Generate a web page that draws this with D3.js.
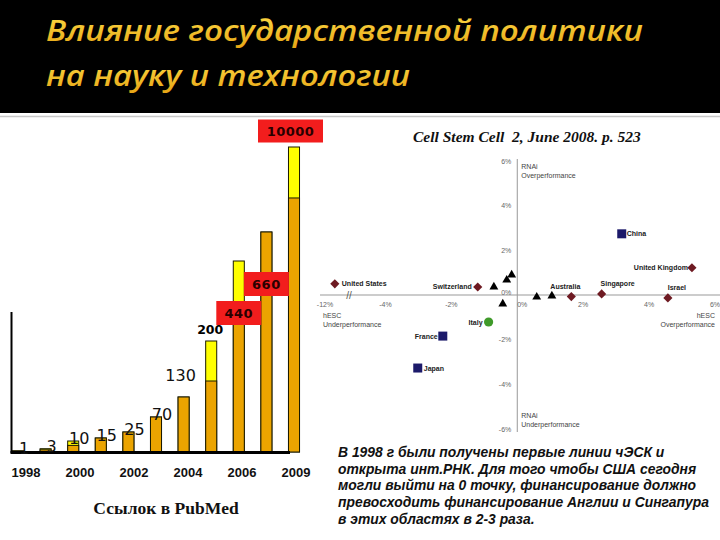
<!DOCTYPE html>
<html><head><meta charset="utf-8">
<script src="https://cdn.jsdelivr.net/npm/d3@7"></script>
<style>body{margin:0;background:#fff}svg{display:block}</style>
</head><body><svg id="c" width="720" height="540"></svg>
<script>
// ---------- data ----------
const titleLines = ["Влияние государственной политики", "на науку и технологии"];
const barCategories = ["1998","1999","2000","2001","2002","2003","2004","2005","2006","2007","2008"];
const barTotals = [1, 3, 10, 15, 25, 70, 130, 200, 440, 660, 10000];
const barBase   = [1, 2, 6, 15, 25, 70, 130, 150, 300, 660, 4400];
const barLabels = ["1","3","10","15","25","70","130","200","440","660","10000"];
const barLabelKinds = ["plain","plain","plain","plain","plain","plain","raised","bold","box","box","boxTop"];
const yearTicks = ["1998","2000","2002","2004","2006","2009"];
const barAxisTitle = "Ссылок в PubMed";
const citation = "Cell Stem Cell  2, June 2008. p. 523";

const scatterXTicks = [-12, -4, -2, 0, 2, 4, 6];
const scatterYTicks = [-6, -4, -2, 0, 2, 4, 6];
const countries    = ["United States","Switzerland","Australia","Singapore","Israel","United Kingdom","China","France","Japan","Italy"];
const countryX     = [-9.5, -1.2, 1.64, 2.56, 4.57, 5.3, 3.17, -2.26, -3.02, -0.87];
const countryY     = [0.5, 0.36, -0.07, 0.05, -0.13, 1.22, 2.74, -1.84, -3.27, -1.21];
const countryGroup = ["diamond","diamond","diamond","diamond","diamond","diamond","square","square","square","circle"];
const otherX = [-0.71, -0.32, -0.17, -0.44, 0.59, 1.05];
const otherY = [0.36, 0.67, 0.9, -0.4, -0.09, -0.04];
const quadrantLabels = [["RNAi","Overperformance"],["hESC","Underperformance"],["hESC","Overperformance"],["RNAi","Underperformance"]];
const noteLines = [
  "В 1998 г были получены первые линии чЭСК и",
  "открыта инт.РНК. Для того чтобы США сегодня",
  "могли выйти на 0 точку, финансирование должно",
  "превосходить финансирование Англии и Сингапура",
  "в этих областях в 2-3 раза."
];

// ---------- drawing ----------
const svg = d3.select("#c");
const defs = svg.append("defs");
const g1 = defs.append("linearGradient").attr("id","gold").attr("x1",0).attr("y1",0).attr("x2",0).attr("y2",1);
g1.append("stop").attr("offset","0%").attr("stop-color","#ffe04a");
g1.append("stop").attr("offset","100%").attr("stop-color","#e6a414");

// header
svg.append("rect").attr("x",0).attr("y",0).attr("width",720).attr("height",113).attr("fill","#000");
svg.append("line").attr("x1",0).attr("x2",720).attr("y1",116.5).attr("y2",116.5).attr("stroke","#c8c8c8").attr("stroke-width",1.5);
const titleW = [597, 364];
titleLines.forEach((t,i)=>{
  svg.append("text").attr("x",46).attr("y",[41,86][i])
    .attr("font-family","Open Sans, sans-serif").attr("font-style","italic").attr("font-weight",600)
    .attr("font-size",29).attr("fill","url(#gold)")
    .attr("textLength",titleW[i]).attr("lengthAdjust","spacingAndGlyphs").text(t);
});

// ---- bar chart ----
const base = 452;
const xb = d3.scaleBand().domain(barCategories).range([4.2, 307.8]).paddingInner(0.6).paddingOuter(0.3);
const yb = d3.scaleLinear().domain([0, 10, 25, 130, 200, 440, 660, 10000])
  .range([base, 441, 432, 397, 341, 261, 232, 147]);
const bars = svg.append("g");
barCategories.forEach((c,i)=>{
  const x = xb(c), w = xb.bandwidth();
  bars.append("rect").attr("x",x).attr("y",yb(barTotals[i])).attr("width",w)
    .attr("height",base - yb(barTotals[i])).attr("fill","#ffff00").attr("stroke","#1a1a00").attr("stroke-width",1);
  bars.append("rect").attr("x",x).attr("y",yb(barBase[i])).attr("width",w)
    .attr("height",base - yb(barBase[i])).attr("fill","#eba400").attr("stroke","#1a1a00").attr("stroke-width",1);
});
svg.append("line").attr("x1",11.5).attr("x2",11.5).attr("y1",312).attr("y2",base+1).attr("stroke","#000").attr("stroke-width",2);
svg.append("line").attr("x1",10.5).attr("x2",290).attr("y1",base+0.5).attr("y2",base+0.5).attr("stroke","#000").attr("stroke-width",3);

// value labels
barCategories.forEach((c,i)=>{
  const cx = xb(c) + xb.bandwidth()/2, top = yb(barTotals[i]);
  const k = barLabelKinds[i];
  if (k === "plain" || k === "raised") {
    svg.append("text").attr("x", k==="raised" ? cx-3 : cx+6).attr("y", k==="raised" ? top-16 : top+3)
      .attr("text-anchor","middle").attr("font-family","DejaVu Sans, sans-serif").attr("font-size",16)
      .attr("fill","#111").text(barLabels[i]);
  } else if (k === "bold") {
    svg.append("text").attr("x",cx-1).attr("y",top-7).attr("text-anchor","middle")
      .attr("font-family","DejaVu Sans, sans-serif").attr("font-weight","bold").attr("font-size",12.5)
      .attr("fill","#000").text(barLabels[i]);
  } else {
    const cy = k==="box" ? top+52 : top-16;
    const bw = k==="box" ? 45 : 65, bh = k==="box" ? 24 : 23;
    const bx = k==="box" ? cx-bw/2 : cx-36;
    svg.append("rect").attr("x",bx).attr("y",cy-bh/2).attr("width",bw).attr("height",bh).attr("fill","#f21d1d");
    svg.append("text").attr("x",bx+bw/2).attr("y",cy+4.5).attr("text-anchor","middle")
      .attr("font-family","DejaVu Sans, sans-serif").attr("font-weight","bold").attr("font-size",13)
      .attr("letter-spacing",0.5).attr("fill","#2a0000").text(barLabels[i]);
  }
});
const xt = d3.scalePoint().domain(yearTicks).range([26, 296]);
yearTicks.forEach(t=>{
  svg.append("text").attr("x",xt(t)).attr("y",477).attr("text-anchor","middle")
    .attr("font-family","Liberation Sans, Arial, sans-serif").attr("font-weight","bold").attr("font-size",13)
    .attr("fill","#111").text(t);
});
svg.append("text").attr("x",166).attr("y",514).attr("text-anchor","middle")
  .attr("font-family","Liberation Serif, serif").attr("font-weight","bold").attr("font-size",17.5)
  .attr("fill","#111").text(barAxisTitle);

// citation
svg.append("text").attr("x",413).attr("y",142).attr("font-family","Liberation Serif, serif")
  .style("white-space","pre")
  .attr("font-weight","bold").attr("font-style","italic").attr("font-size",15.5).attr("fill","#111").text(citation);

// ---- scatter ----
const xs = d3.scaleLinear().domain([-12, -5, 6]).range([325, 352.5, 715]);
const ys = d3.scaleLinear().domain([-6, 6]).range([429, 161]);
const sc = svg.append("g");
sc.append("line").attr("x1",xs(0)).attr("x2",xs(0)).attr("y1",159).attr("y2",432).attr("stroke","#999").attr("stroke-width",1);
sc.append("line").attr("x1",320).attr("x2",720).attr("y1",ys(0)).attr("y2",ys(0)).attr("stroke","#999").attr("stroke-width",1);
sc.append("text").attr("x",349).attr("y",299).attr("text-anchor","middle").attr("font-family","Liberation Sans, sans-serif")
  .attr("font-size",10).attr("fill","#555").text("//");
const tickFont = {ff:"Liberation Sans, Arial, sans-serif", fs:7, fill:"#666"};
scatterYTicks.forEach(t=>{
  sc.append("text").attr("x",xs(0)-6).attr("y",ys(t)+(t===0?0:2.5)).attr("text-anchor","end")
    .attr("font-family",tickFont.ff).attr("font-size",tickFont.fs).attr("fill",tickFont.fill).text(t+"%");
});
scatterXTicks.forEach(t=>{
  sc.append("text").attr("x",xs(t)+(t===0?5:0)).attr("y",ys(0)+12).attr("text-anchor","middle")
    .attr("font-family",tickFont.ff).attr("font-size",tickFont.fs).attr("fill",tickFont.fill).text(t+"%");
});
const qpos = [[xs(0)+4,166,"start"],[323,315,"start"],[715,315,"end"],[xs(0)+4,415,"start"]];
quadrantLabels.forEach((q,i)=>{
  q.forEach((s,j)=>{
    sc.append("text").attr("x",qpos[i][0]).attr("y",qpos[i][1]+j*9+2.5).attr("text-anchor",qpos[i][2])
      .attr("font-family",tickFont.ff).attr("font-size",7).attr("fill","#444").text(s);
  });
});
otherX.forEach((v,i)=>{
  sc.append("path").attr("d",d3.symbol(d3.symbolTriangle,34)()).attr("transform",`translate(${xs(v)},${ys(otherY[i])})`).attr("fill","#000");
});
const colorOf = {diamond:"#6e1a22", square:"#1c1a6a", circle:"#3f9a2a"};
const labelPlace = {
  "United States":[7,0,"start"], "Switzerland":[-6,0,"end"], "Australia":[-6,-10,"middle"],
  "Singapore":[16,-10,"middle"], "Israel":[9,-10,"middle"], "United Kingdom":[-4,0,"end"],
  "China":[5,0,"start"], "France":[-5,0,"end"], "Japan":[6,0,"start"], "Italy":[-6,0,"end"]
};
countries.forEach((c,i)=>{
  const px = xs(countryX[i]), py = ys(countryY[i]);
  const grp = countryGroup[i];
  let p;
  if (grp==="diamond") p = sc.append("path").attr("d",d3.symbol(d3.symbolSquare,42)()).attr("transform",`translate(${px},${py}) rotate(45)`);
  else if (grp==="square") p = sc.append("path").attr("d",d3.symbol(d3.symbolSquare,81)()).attr("transform",`translate(${px},${py})`);
  else p = sc.append("path").attr("d",d3.symbol(d3.symbolCircle,66)()).attr("transform",`translate(${px},${py})`);
  p.attr("fill",colorOf[grp]);
  const lp = labelPlace[c];
  sc.append("text").attr("x",px+lp[0]).attr("y",py+lp[1]+2.5).attr("text-anchor",lp[2])
    .attr("font-family","Liberation Sans, Arial, sans-serif").attr("font-weight","bold").attr("font-size",7)
    .attr("fill","#222").text(c);
});

// ---- note ----
noteLines.forEach((t,i)=>{
  svg.append("text").attr("x",338).attr("y",457+i*16.7).attr("font-family","Liberation Sans, Arial, sans-serif")
    .attr("font-weight","bold").attr("font-style","italic").attr("font-size",13.9).attr("fill","#111").text(t);
});
</script></body></html>
